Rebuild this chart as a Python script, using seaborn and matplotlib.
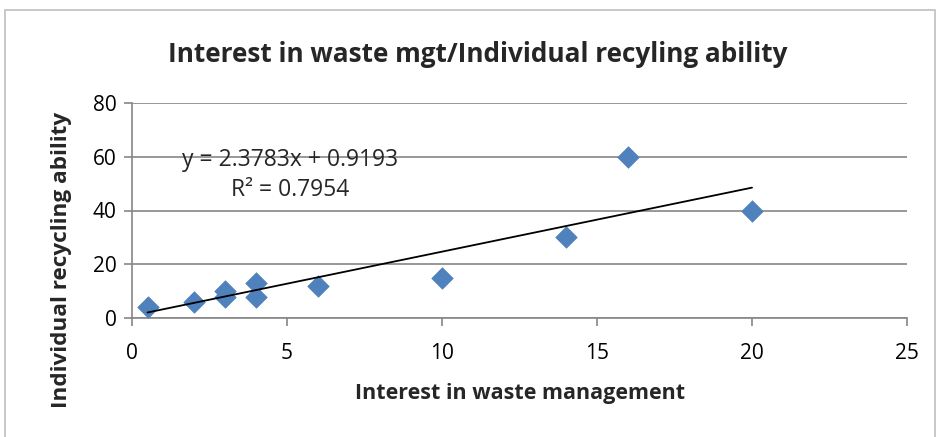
import matplotlib
matplotlib.use("Agg")
import matplotlib.pyplot as plt
import seaborn as sns
import pandas as pd
from matplotlib.patches import Rectangle

interest = [0.5, 2, 3, 3, 4, 4, 6, 10, 14, 16, 20]
recycling = [4, 6, 8, 10, 8, 13, 12, 15, 30, 60, 40]
x_ticks = [0, 5, 10, 15, 20, 25]
y_ticks = [0, 20, 40, 60, 80]
title = "Interest in waste mgt/Individual recyling ability"
x_label = "Interest in waste management"
y_label = "Individual recycling ability"
eq_text = "y = 2.3783x + 0.9193"
r2_text = "R² = 0.7954"

df = pd.DataFrame({"x": interest, "y": recycling})

sns.set_style("white")
plt.rcParams["font.family"] = ["Open Sans", "DejaVu Sans"]

fig = plt.figure(figsize=(9.4, 4.37), dpi=100)
ax = fig.add_axes([132/940, 1-318/437, (907-132)/940, (318-103)/437])

fig.patches.append(Rectangle((5/940, -0.05), 930/940, 1-10/437+0.05,
                             transform=fig.transFigure, fill=False,
                             edgecolor="#bfbfbf", linewidth=1.2, zorder=0))

sns.regplot(data=df, x="x", y="y", ax=ax, ci=None, truncate=True, marker="D",
            scatter_kws=dict(s=120, color="#4F81BD", edgecolor="#4F81BD",
                             linewidths=0.5, alpha=1, zorder=3),
            line_kws=dict(color="black", linewidth=1.3, zorder=4))

ax.set_xlim(0, 25)
ax.set_ylim(0, 80)
ax.set_xticks(x_ticks)
ax.set_yticks(y_ticks)
ax.tick_params(axis="both", labelsize=15, colors="#868686", labelcolor="black",
               length=6, width=1.2, direction="out", bottom=True, left=True)
ax.tick_params(axis="x", pad=12)
ax.tick_params(axis="y", pad=5)
ax.yaxis.grid(True, color="#868686", linewidth=1.2)
ax.set_axisbelow(True)
for s in ["top", "right"]:
    ax.spines[s].set_visible(False)
for s in ["left", "bottom"]:
    ax.spines[s].set_color("#868686")
    ax.spines[s].set_linewidth(1.2)

ax.set_xlabel("")
ax.set_ylabel("")
fig.text(520/940, 1-393/437, x_label, ha="center", va="center",
         fontsize=15.5, fontweight="bold")
fig.text(62/940, 1-260/437, y_label, ha="center", va="center", rotation=90,
         fontsize=16.2, fontweight="bold")
fig.text(478/940, 1-55/437, title, ha="center", va="center", fontsize=18.8, fontweight="bold")

ax.text(5.1, 58.8, eq_text, ha="center", va="center", fontsize=16.5)
ax.text(5.1, 47.6, r2_text, ha="center", va="center", fontsize=16.5)

fig.savefig("out.png", dpi=100)
